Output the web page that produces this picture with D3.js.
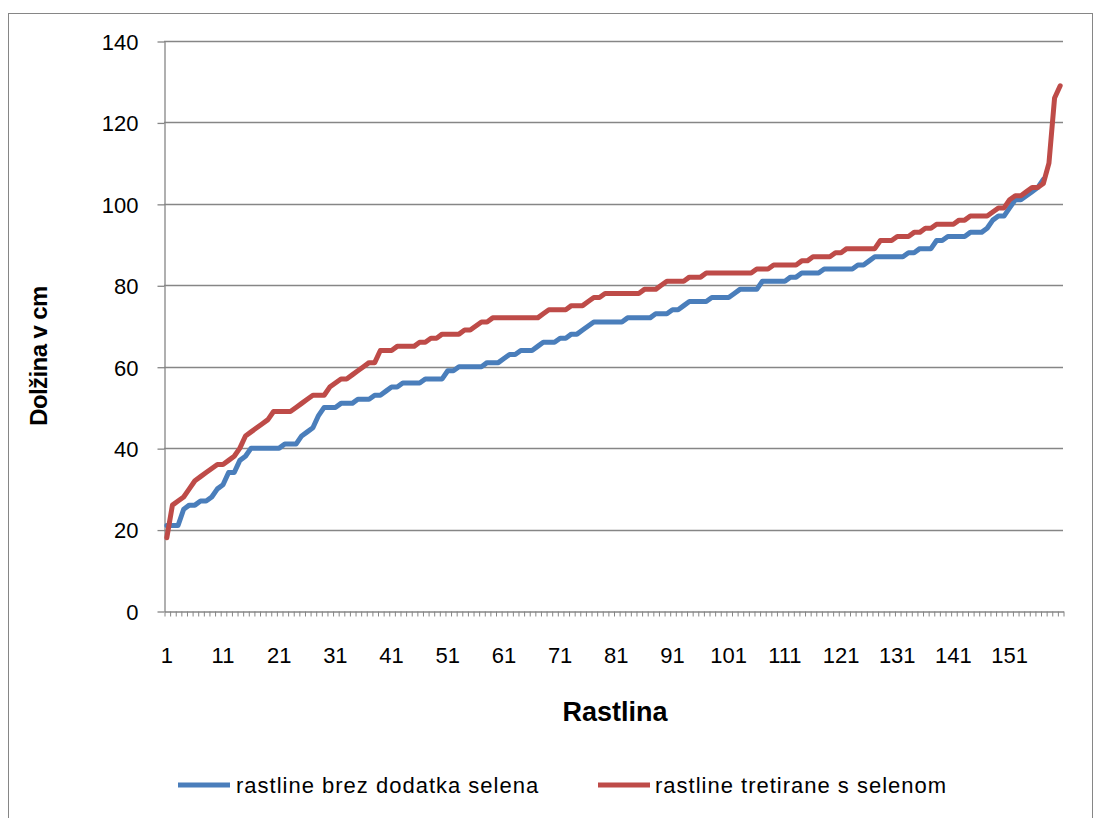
<!DOCTYPE html>
<html>
<head>
<meta charset="utf-8">
<script src="https://cdn.jsdelivr.net/npm/d3@7"></script>
<style>
  html, body { margin: 0; padding: 0; background: #fff; }
  svg { display: block; }
  text { font-family: "Liberation Sans", Arial, sans-serif; fill: #000; }
</style>
</head>
<body>
<svg id="chart" width="1099" height="818"></svg>
<script>
// Plant heights (cm), sorted ascending, for the untreated group
const brezSelena = [
  21,21,21,25,26,26,27,27,28,30,
  31,34,34,37,38,40,40,40,40,40,
  40,41,41,41,43,44,45,48,50,50,
  50,51,51,51,52,52,52,53,53,54,
  55,55,56,56,56,56,57,57,57,57,
  59,59,60,60,60,60,60,61,61,61,
  62,63,63,64,64,64,65,66,66,66,
  67,67,68,68,69,70,71,71,71,71,
  71,71,72,72,72,72,72,73,73,73,
  74,74,75,76,76,76,76,77,77,77,
  77,78,79,79,79,79,81,81,81,81,
  81,82,82,83,83,83,83,84,84,84,
  84,84,84,85,85,86,87,87,87,87,
  87,87,88,88,89,89,89,91,91,92,
  92,92,92,93,93,93,94,96,97,97,
  99,101,101,102,103,104,106
];

// Plant heights (cm), sorted ascending, for the selenium-treated group
const sSelenom = [
  18,26,27,28,30,32,33,34,35,36,
  36,37,38,40,43,44,45,46,47,49,
  49,49,49,50,51,52,53,53,53,55,
  56,57,57,58,59,60,61,61,64,64,
  64,65,65,65,65,66,66,67,67,68,
  68,68,68,69,69,70,71,71,72,72,
  72,72,72,72,72,72,72,73,74,74,
  74,74,75,75,75,76,77,77,78,78,
  78,78,78,78,78,79,79,79,80,81,
  81,81,81,82,82,82,83,83,83,83,
  83,83,83,83,83,84,84,84,85,85,
  85,85,85,86,86,87,87,87,87,88,
  88,89,89,89,89,89,89,91,91,91,
  92,92,92,93,93,94,94,95,95,95,
  95,96,96,97,97,97,97,98,99,99,
  101,102,102,103,104,104,105,110,126,129
];

const seriesNames = ["rastline brez dodatka selena", "rastline tretirane s selenom"];
const seriesColors = ["#4a7ebb", "#be4b48"];
const yTicks = [0, 20, 40, 60, 80, 100, 120, 140];
const categoryCount = 160;
const categories = d3.range(1, categoryCount + 1);
const labelledCategories = categories.filter(c => (c - 1) % 10 === 0 && c <= 151);

const svg = d3.select("#chart");
const plot = { left: 164, right: 1063, top: 41, bottom: 611 };
const gridColor = "#868686";

// outer chart frame
svg.append("rect")
  .attr("x", 8.5).attr("y", 13.5)
  .attr("width", 1084).attr("height", 830)
  .attr("fill", "none").attr("stroke", gridColor).attr("stroke-width", 1);

const x = d3.scaleBand().domain(categories).range([plot.left, plot.right]).padding(0);
const y = d3.scaleLinear().domain([0, 140]).range([plot.bottom, plot.top]);
const cx = c => x(c) + x.bandwidth() / 2;

// horizontal gridlines
svg.append("g")
  .selectAll("line")
  .data(yTicks.filter(t => t > 0))
  .join("line")
  .attr("x1", plot.left).attr("x2", plot.right)
  .attr("y1", d => Math.round(y(d)) + 0.5).attr("y2", d => Math.round(y(d)) + 0.5)
  .attr("stroke", gridColor).attr("stroke-width", 1.3);

// y axis
const yAxis = svg.append("g")
  .attr("transform", `translate(${plot.left + 0.5},0.5)`)
  .call(d3.axisLeft(y).tickValues(yTicks).tickSize(7).tickPadding(19).tickSizeOuter(0));
yAxis.select(".domain").attr("stroke", gridColor).attr("stroke-width", 1.3);
yAxis.selectAll(".tick line").attr("stroke", gridColor).attr("stroke-width", 1.3);
yAxis.selectAll(".tick text")
  .attr("font-size", 22).attr("font-family", "Liberation Sans, Arial, sans-serif")
  .attr("dy", "0.36em");

// x axis: tick marks at category boundaries
const xb = d3.scaleLinear().domain([0, categoryCount]).range([plot.left, plot.right]);
const xTickAxis = svg.append("g")
  .attr("transform", `translate(0.5,${plot.bottom + 0.5})`)
  .call(d3.axisBottom(xb).tickValues(d3.range(0, categoryCount + 1)).tickSize(5).tickFormat("").tickSizeOuter(0));
xTickAxis.select(".domain").attr("stroke", gridColor).attr("stroke-width", 1.3);
xTickAxis.selectAll(".tick line").attr("stroke", gridColor).attr("stroke-width", 1);

// x axis labels every tenth plant
const xLabelAxis = svg.append("g")
  .attr("transform", `translate(0,${plot.bottom})`)
  .call(d3.axisBottom(x).tickValues(labelledCategories).tickSize(0).tickSizeOuter(0));
xLabelAxis.select(".domain").remove();
xLabelAxis.selectAll(".tick text")
  .attr("font-size", 22).attr("font-family", "Liberation Sans, Arial, sans-serif")
  .attr("y", 52).attr("dy", 0);

// series lines
const line = d3.line()
  .x((d, i) => cx(categories[i]))
  .y(d => y(d));

[brezSelena, sSelenom].forEach((values, k) => {
  svg.append("path")
    .datum(values)
    .attr("d", line)
    .attr("fill", "none")
    .attr("stroke", seriesColors[k])
    .attr("stroke-width", 5)
    .attr("stroke-linejoin", "round")
    .attr("stroke-linecap", "round");
});

// axis titles
svg.append("text")
  .attr("transform", `translate(47,356) rotate(-90)`)
  .attr("text-anchor", "middle")
  .attr("font-size", 24).attr("font-weight", "bold")
  .attr("letter-spacing", -0.6)
  .text("Dolžina v  cm");

svg.append("text")
  .attr("x", 615).attr("y", 721)
  .attr("text-anchor", "middle")
  .attr("font-size", 27).attr("font-weight", "bold")
  .text("Rastlina");

// legend
const legendItems = [
  { x1: 178, x2: 230, tx: 236 },
  { x1: 598, x2: 650, tx: 655 }
];
legendItems.forEach((it, k) => {
  svg.append("line")
    .attr("x1", it.x1).attr("x2", it.x2)
    .attr("y1", 785).attr("y2", 785)
    .attr("stroke", seriesColors[k]).attr("stroke-width", 5);
  svg.append("text")
    .attr("x", it.tx).attr("y", 793)
    .attr("font-size", 22)
    .attr("letter-spacing", 1)
    .text(seriesNames[k]);
});
</script>
</body>
</html>
